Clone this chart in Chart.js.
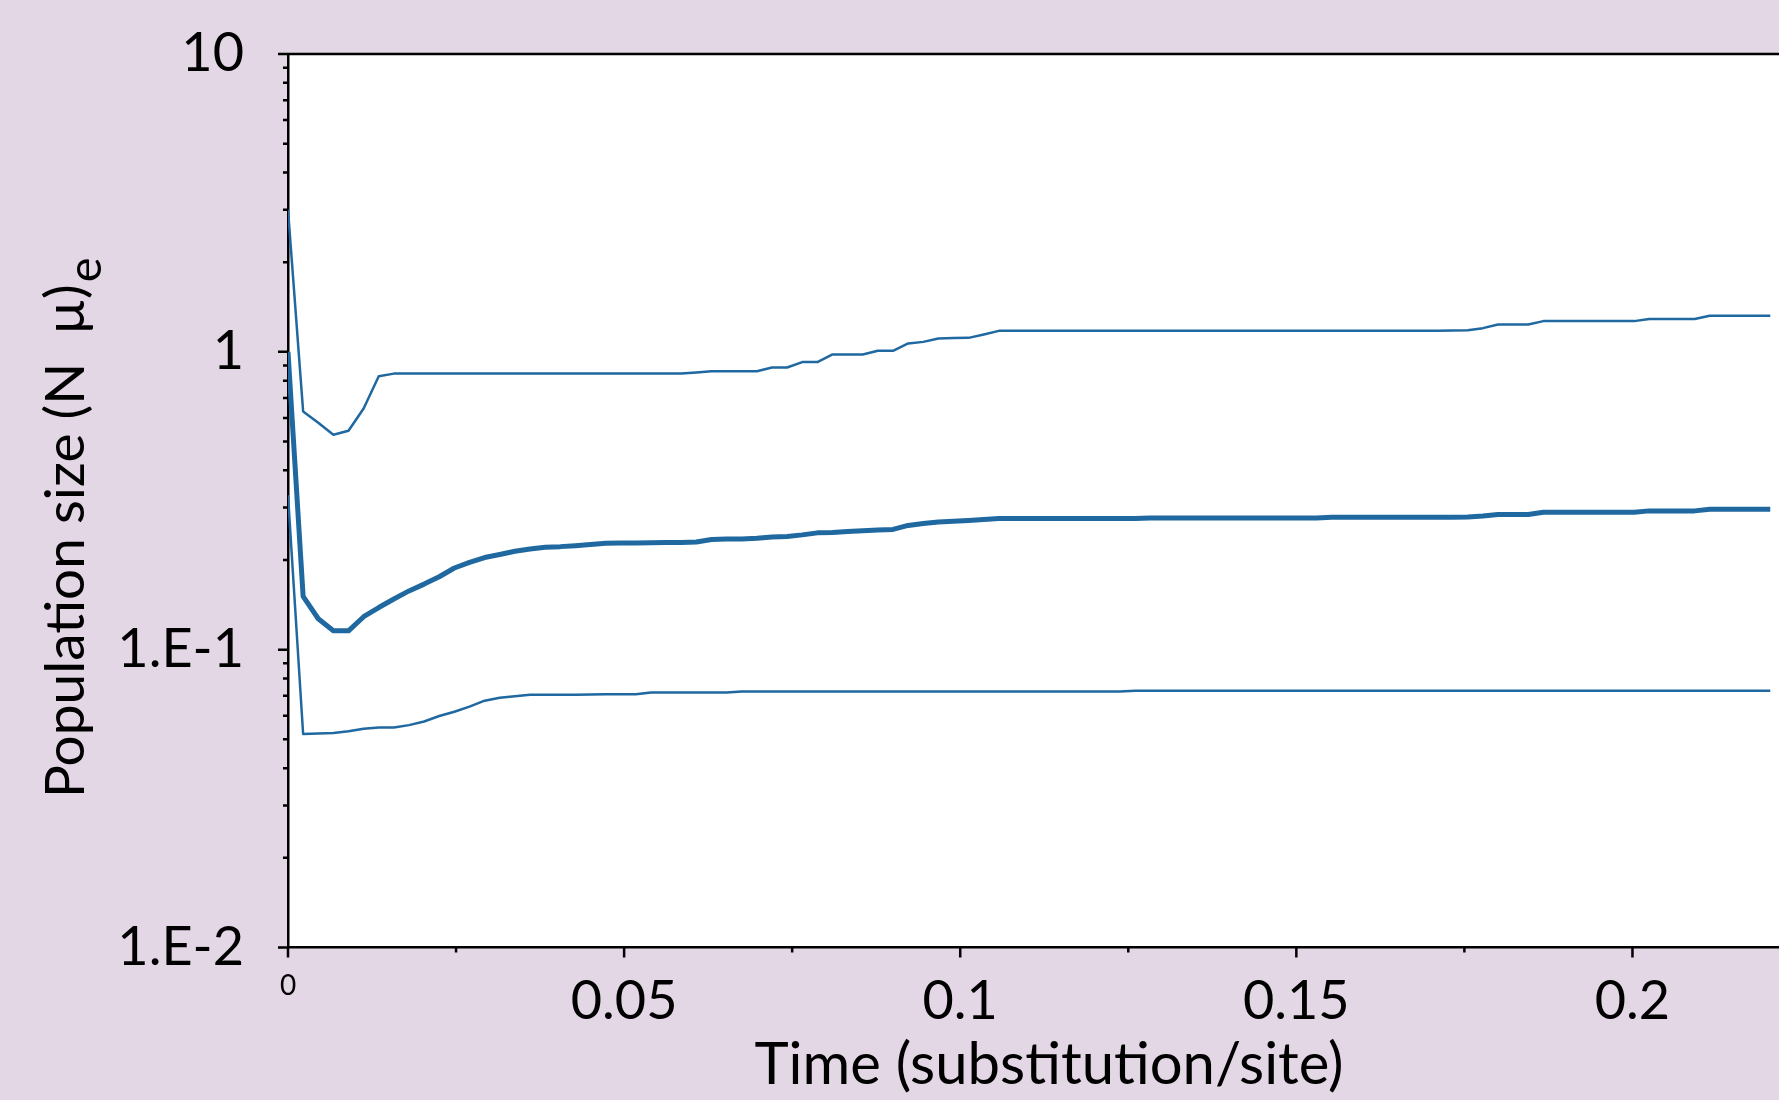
<!DOCTYPE html>
<html>
<head>
<meta charset="utf-8">
<script src="https://cdn.jsdelivr.net/npm/chart.js@4.4.1/dist/chart.umd.min.js"></script>
<style>
html,body{margin:0;padding:0;background:#e3d6e5;}
#wrap{width:1779px;height:1100px;}
</style>
</head>
<body>
<div id="wrap"><canvas id="chart" width="1779" height="1100"></canvas></div>
<script>
// time grid (substitution/site)
const time = [
  0, 0.00225, 0.0045, 0.00675, 0.009, 0.01125, 0.0135, 0.01575, 0.018, 0.02025,
  0.0225, 0.02475, 0.027, 0.02925, 0.0315, 0.03375, 0.036, 0.03825, 0.0405, 0.04275,
  0.045, 0.04725, 0.0495, 0.05175, 0.054, 0.05625, 0.0585, 0.06075, 0.063, 0.06525,
  0.0675, 0.06975, 0.072, 0.07425, 0.0765, 0.07875, 0.081, 0.08325, 0.0855, 0.08775,
  0.09, 0.09225, 0.0945, 0.09675, 0.099, 0.10125, 0.1035, 0.10575, 0.108, 0.11025,
  0.1125, 0.11475, 0.117, 0.11925, 0.1215, 0.12375, 0.126, 0.12825, 0.1305, 0.13275,
  0.135, 0.13725, 0.1395, 0.14175, 0.144, 0.14625, 0.1485, 0.15075, 0.153, 0.15525,
  0.1575, 0.15975, 0.162, 0.16425, 0.1665, 0.16875, 0.171, 0.17325, 0.1755, 0.17775,
  0.18, 0.18225, 0.1845, 0.18675, 0.189, 0.19125, 0.1935, 0.19575, 0.198, 0.20025,
  0.2025, 0.20475, 0.207, 0.20925, 0.2115, 0.21375, 0.216, 0.21825, 0.2205
];
const upper = [
  3.0, 0.631, 0.578, 0.527, 0.543, 0.645, 0.828, 0.845, 0.846, 0.846,
  0.846, 0.846, 0.846, 0.846, 0.846, 0.846, 0.846, 0.846, 0.846, 0.846,
  0.846, 0.846, 0.846, 0.846, 0.846, 0.846, 0.846, 0.853, 0.861, 0.861,
  0.861, 0.861, 0.886, 0.886, 0.924, 0.924, 0.980, 0.980, 0.980, 1.008,
  1.008, 1.067, 1.080, 1.109, 1.112, 1.114, 1.144, 1.176, 1.176, 1.176,
  1.176, 1.176, 1.176, 1.176, 1.176, 1.176, 1.176, 1.176, 1.176, 1.176,
  1.176, 1.176, 1.176, 1.176, 1.176, 1.176, 1.176, 1.176, 1.176, 1.176,
  1.176, 1.176, 1.176, 1.176, 1.176, 1.176, 1.178, 1.180, 1.182, 1.201,
  1.236, 1.236, 1.236, 1.268, 1.268, 1.268, 1.268, 1.268, 1.268, 1.268,
  1.288, 1.288, 1.288, 1.288, 1.321, 1.321, 1.321, 1.321, 1.321
];
const median = [
  1.0, 0.151, 0.127, 0.1157, 0.1157, 0.129, 0.1385, 0.148, 0.1575, 0.166,
  0.1757, 0.188, 0.1964, 0.2039, 0.2087, 0.214, 0.2177, 0.2209, 0.2218, 0.2235,
  0.2255, 0.2275, 0.2282, 0.2282, 0.2285, 0.2288, 0.2291, 0.2300, 0.2344, 0.2353,
  0.2353, 0.2367, 0.2391, 0.2400, 0.2429, 0.2467, 0.2472, 0.2494, 0.2506, 0.2520,
  0.2534, 0.2613, 0.2653, 0.2684, 0.2697, 0.2715, 0.2736, 0.2758, 0.2758, 0.2758,
  0.2758, 0.2758, 0.2758, 0.2758, 0.2758, 0.2758, 0.2758, 0.2765, 0.2765, 0.2765,
  0.2765, 0.2765, 0.2765, 0.2765, 0.2765, 0.2765, 0.2765, 0.2765, 0.2765, 0.2785,
  0.2785, 0.2785, 0.2785, 0.2785, 0.2785, 0.2785, 0.2785, 0.2785, 0.279, 0.2813,
  0.2844, 0.2844, 0.2844, 0.2894, 0.2894, 0.2894, 0.2894, 0.2894, 0.2894, 0.2894,
  0.2924, 0.2924, 0.2924, 0.2924, 0.2963, 0.2963, 0.2963, 0.2963, 0.2963
];
const lower = [
  0.33, 0.0521, 0.0523, 0.0525, 0.0532, 0.0543, 0.0548, 0.0548, 0.0558, 0.0574,
  0.0599, 0.0619, 0.0644, 0.0674, 0.0690, 0.0698, 0.0706, 0.0706, 0.0706, 0.0706,
  0.0707, 0.0709, 0.0709, 0.0709, 0.0718, 0.0718, 0.0718, 0.0718, 0.0718, 0.0718,
  0.0723, 0.0723, 0.0723, 0.0723, 0.0723, 0.0723, 0.0723, 0.0723, 0.0723, 0.0723,
  0.0723, 0.0723, 0.0723, 0.0723, 0.0723, 0.0723, 0.0723, 0.0723, 0.0723, 0.0723,
  0.0723, 0.0723, 0.0723, 0.0723, 0.0723, 0.0723, 0.0728, 0.0728, 0.0728, 0.0728,
  0.0728, 0.0728, 0.0728, 0.0728, 0.0728, 0.0728, 0.0728, 0.0728, 0.0728, 0.0728,
  0.0728, 0.0728, 0.0728, 0.0728, 0.0728, 0.0728, 0.0728, 0.0728, 0.0728, 0.0728,
  0.0728, 0.0728, 0.0728, 0.0728, 0.0728, 0.0728, 0.0728, 0.0728, 0.0728, 0.0728,
  0.0728, 0.0728, 0.0728, 0.0728, 0.0728, 0.0728, 0.0728, 0.0728, 0.0728
];

const xMajor = [0, 0.05, 0.1, 0.15, 0.2];
const xLabels = ['0', '0.05', '0.1', '0.15', '0.2'];
const xMinor = [0.025, 0.075, 0.125, 0.175];
const yMajor = [0.01, 0.1, 1, 10];
const yLabels = ['1.E-2', '1.E-1', '1', '10'];
const yMinor = [0.02,0.03,0.04,0.05,0.06,0.07,0.08,0.09, 0.2,0.3,0.4,0.5,0.6,0.7,0.8,0.9, 2,3,4,5,6,7,8,9];

const FONT = 'Lato, "Open Sans", sans-serif';
const BLUE = '#1f68a0';
const BG = '#e3d6e5';
const pts = arr => arr.map((v, i) => ({ x: time[i], y: v }));

// background, top frame line, tick marks and axis titles
const frame = {
  id: 'frame',
  beforeDraw(chart){
    const { ctx, chartArea: a } = chart;
    ctx.save();
    ctx.fillStyle = BG; ctx.fillRect(0, 0, chart.width, chart.height);
    ctx.fillStyle = '#fff'; ctx.fillRect(a.left, a.top, a.right - a.left, a.bottom - a.top);
    ctx.restore();
  },
  afterDraw(chart){
    const { ctx, chartArea: a, scales: { x, y } } = chart;
    ctx.save();
    ctx.strokeStyle = '#000'; ctx.lineWidth = 2.5;
    ctx.beginPath();
    ctx.moveTo(a.left, a.top); ctx.lineTo(a.right, a.top);
    yMajor.forEach(v => { const p = y.getPixelForValue(v); ctx.moveTo(a.left - 10, p); ctx.lineTo(a.left, p); });
    yMinor.forEach(v => { const p = y.getPixelForValue(v); ctx.moveTo(a.left - 5, p); ctx.lineTo(a.left, p); });
    xMajor.forEach(v => { const p = x.getPixelForValue(v); ctx.moveTo(p, a.bottom); ctx.lineTo(p, a.bottom + 10); });
    xMinor.forEach(v => { const p = x.getPixelForValue(v); ctx.moveTo(p, a.bottom); ctx.lineTo(p, a.bottom + 5); });
    ctx.stroke();

    ctx.fillStyle = '#000';
    ctx.font = '58px ' + FONT;
    ctx.textAlign = 'center'; ctx.textBaseline = 'alphabetic';
    ctx.fillText('Time (substitution/site)', 1049, 1084);

    ctx.translate(84, 798); ctx.rotate(-Math.PI / 2);
    ctx.textAlign = 'left';
    ctx.font = '55px ' + FONT;
    const main = 'Population size (N  \u00b5)';
    ctx.fillText(main, 0, 0);
    const w = ctx.measureText(main).width;
    ctx.font = '47px ' + FONT;
    ctx.fillText('e', w + 2, 17);
    ctx.restore();
  }
};

new Chart(document.getElementById('chart'), {
  type: 'line',
  data: { datasets: [
    { label: 'upper', data: pts(upper), borderColor: BLUE, borderWidth: 2.5, pointRadius: 0, tension: 0, borderJoinStyle: 'round' },
    { label: 'median', data: pts(median), borderColor: BLUE, borderWidth: 5, pointRadius: 0, tension: 0, borderJoinStyle: 'round' },
    { label: 'lower', data: pts(lower), borderColor: BLUE, borderWidth: 2.5, pointRadius: 0, tension: 0, borderJoinStyle: 'round' }
  ] },
  options: {
    responsive: false, animation: false,
    layout: { padding: { top: 54, left: 0, right: 0, bottom: 0 } },
    plugins: { legend: { display: false }, tooltip: { enabled: false } },
    scales: {
      x: {
        type: 'linear', min: 0, max: 0.2218,
        afterBuildTicks: s => { s.ticks = xMajor.map(v => ({ value: v })); },
        afterFit: s => { s.height = 152.5; },
        grid: { display: false },
        border: { display: true, color: '#000', width: 2.5 },
        ticks: {
          autoSkip: false, maxRotation: 0, padding: 14, color: '#000',
          callback: v => xLabels[xMajor.indexOf(v)],
          font: c => ({ family: FONT, size: (c.tick && c.tick.value === 0) ? 28 : 54 })
        }
      },
      y: {
        type: 'logarithmic', min: 0.01, max: 10,
        afterBuildTicks: s => { s.ticks = yMajor.map(v => ({ value: v, major: true })); },
        afterFit: s => { s.width = 288; s.paddingTop = 0; s.paddingBottom = 0; },
        grid: { display: false },
        border: { display: true, color: '#000', width: 2.5 },
        ticks: {
          autoSkip: false, padding: 36, color: '#000',
          font: { family: FONT, size: 54 },
          callback: v => yLabels[yMajor.indexOf(v)]
        }
      }
    }
  },
  plugins: [frame]
});
</script>
</body>
</html>
